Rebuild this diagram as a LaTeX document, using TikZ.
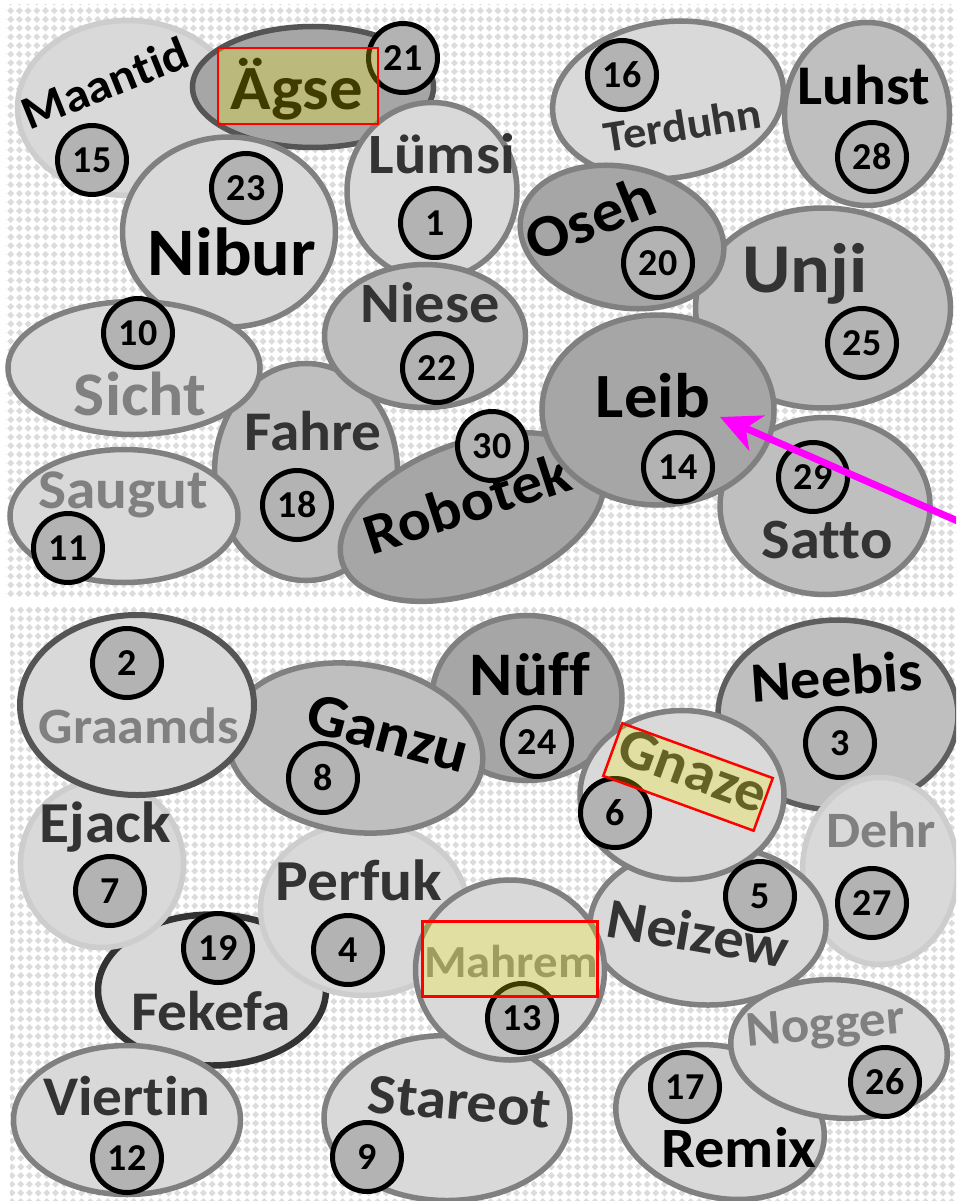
\documentclass[tikz,border=0pt]{standalone}
\usepackage{fontspec}
\setmainfont{Carlito}[Ligatures=NoCommon]
\usepackage{tikz}
\usetikzlibrary{arrows.meta,shapes.geometric}

\definecolor{fillL}{HTML}{D9D9D9}
\definecolor{fillM}{HTML}{BFBFBF}
\definecolor{fillD}{HTML}{A6A6A6}
\definecolor{rimN}{HTML}{808080}
\definecolor{rimD}{HTML}{555555}
\definecolor{rimX}{HTML}{333333}
\definecolor{rimL}{HTML}{CDCDCD}
\definecolor{inkD}{HTML}{333333}
\definecolor{inkG}{HTML}{808080}
\definecolor{ballgray}{HTML}{B3B3B3}
\definecolor{dotgray}{HTML}{DCDCDC}
\definecolor{pointercol}{RGB}{255,0,255}

\newcommand\lblfont[1]{\fontsize{#1}{#1}\selectfont\bfseries}

\begin{document}
\begin{tikzpicture}[x=1pt, y=-1pt,
  blob/.style={ellipse, draw=rimN, line width=5.5pt, inner sep=0pt},
  paleblob/.style={blob, fill=fillL},
  midblob/.style={blob, fill=fillM},
  darkblob/.style={blob, fill=fillD},
  bubbletext/.style={anchor=base, inner sep=0pt, font=\lblfont{#1}, xscale=1.06},
  ball/.style={circle, draw=black, fill=ballgray, line width=5pt, minimum size=69pt, inner sep=0pt, font=\lblfont{38}},
  hilite/.style={draw=red, line width=2.5pt, fill=yellow, fill opacity=0.25, inner sep=0pt},
  pointer/.style={-{Stealth[length=40pt, width=38pt, inset=12pt]}, line width=7pt, pointercol},
  dotrow/.style={dotgray, line width=4.9pt, dash pattern=on 4.9pt off 7.404pt},
]
\useasboundingbox (0,0) rectangle (956,1201);
\clip (0,0) rectangle (956,1201);
\fill[white] (0,0) rectangle (956,1201);
\begin{scope}
  \clip (5,5) rectangle (956,598);
  \foreach \k in {-70,...,110}
    \draw[dotrow] ({\k*8.7+0.27},0.27) -- ++(700,700);
\end{scope}
\begin{scope}
  \clip (10,607) rectangle (956,1201);
  \foreach \k in {-70,...,110}
    \draw[dotrow] ({\k*8.7+10.27},608.27) -- ++(700,700);
\end{scope}

\node[paleblob, draw=rimL, minimum width=221pt, minimum height=175pt] (maantid) at (128,108) {};
\node[rotate=22, bubbletext=47] (maantidtxt) at (111,98) {Maantid};
\node[darkblob, draw=rimD, minimum width=241pt, minimum height=121pt] (aegse) at (313,87) {};
\node[bubbletext=63] (aegsetxt) at (297,110) {Ägse};
\node[paleblob, minimum width=213pt, minimum height=190pt] (nibur) at (229,232) {};
\node[bubbletext=68] (niburtxt) at (232,275) {Nibur};
\node[midblob, minimum width=183pt, minimum height=217pt] (fahre) at (306,472) {};
\node[bubbletext=56, text=inkD] (fahretxt) at (313,450) {Fahre};
\node[paleblob, minimum width=252pt, minimum height=133pt] (sicht) at (134,368) {};
\node[bubbletext=62, text=inkG] (sichttxt) at (140,415) {Sicht};
\node[paleblob, minimum width=228pt, minimum height=133pt] (saugut) at (124,516) {};
\node[bubbletext=56, text=inkG] (saugutxt) at (123,508) {Saugut};
\node[paleblob, minimum width=170pt, minimum height=177pt] (luemsi) at (432,191) {};
\node[bubbletext=57, text=inkD] (luemsitxt) at (442,174) {Lümsi};
\node[midblob, minimum width=201pt, minimum height=143pt] (niese) at (425,336) {};
\node[bubbletext=57, text=inkD] (niesetxt) at (430,322) {Niese};
\node[paleblob, rotate=8, minimum width=232pt, minimum height=156pt] (terduhn) at (668,100) {};
\node[rotate=9, bubbletext=44, text=inkD] (terduhntxt) at (685,140) {Terduhn};
\node[midblob, minimum width=165pt, minimum height=183pt] (luhst) at (867,114) {};
\node[bubbletext=56] (luhsttxt) at (864,105) {Luhst};
\node[midblob, minimum width=255pt, minimum height=200pt] (unji) at (823,308) {};
\node[bubbletext=70, text=inkD] (unjitxt) at (805,292) {Unji};
\node[darkblob, rotate=-12, minimum width=206pt, minimum height=140pt] (oseh) at (622,237) {};
\node[rotate=22, bubbletext=60] (osehtxt) at (598,237) {Oseh};
\node[darkblob, rotate=20, minimum width=275pt, minimum height=149pt] (robotek) at (472,517) {};
\node[rotate=18, bubbletext=58] (robotektxt) at (473,522) {Robotek};
\node[midblob, minimum width=210pt, minimum height=177pt] (satto) at (825,506) {};
\node[bubbletext=57, text=inkD] (sattotxt) at (827,558) {Satto};
\node[darkblob, minimum width=232pt, minimum height=190pt] (leib) at (658,410) {};
\node[bubbletext=63] (leibtxt) at (653,417) {Leib};

\node[paleblob, draw=rimX, line width=6.5pt, minimum width=228pt, minimum height=151pt] (fekefa) at (212,990) {};
\node[bubbletext=56, text=inkD] (fekefatxt) at (211,1030) {Fekefa};
\node[paleblob, minimum width=227pt, minimum height=149pt] (viertin) at (127,1120) {};
\node[bubbletext=56, text=inkD] (viertintxt) at (127,1115) {Viertin};
\node[paleblob, draw=rimL, minimum width=163pt, minimum height=167pt] (ejack) at (102,864) {};
\node[bubbletext=58, text=inkD] (ejacktxt) at (105,842) {Ejack};
\node[paleblob, draw=rimL, minimum width=207pt, minimum height=173pt] (perfuk) at (364,909) {};
\node[bubbletext=58, text=inkD] (perfuktxt) at (359,900) {Perfuk};
\node[darkblob, minimum width=190pt, minimum height=165pt] (nueff) at (527,698) {};
\node[bubbletext=62] (naefftxt) at (530,695) {Nüff};
\node[midblob, rotate=-8, minimum width=257pt, minimum height=168pt] (ganzu) at (355,748) {};
\node[rotate=-15, bubbletext=60] (ganzutxt) at (383,752) {Ganzu};
\node[paleblob, draw=rimD, line width=6pt, minimum width=234pt, minimum height=180pt] (graamds) at (137,705) {};
\node[bubbletext=51, text=inkG] (graamdstxt) at (139,743) {Graamds};
\node[midblob, draw=rimD!80!rimN, minimum width=240pt, minimum height=190pt] (neebis) at (838,715) {};
\node[rotate=4, bubbletext=57] (neebistxt) at (838,696) {Neebis};
\node[paleblob, draw=rimL, minimum width=155pt, minimum height=187pt] (dehr) at (880,871) {};
\node[bubbletext=51, text=inkG] (dehrtxt) at (881,847) {Dehr};
\node[paleblob, minimum width=236pt, minimum height=160pt] (neizew) at (708,925) {};
\node[rotate=-10, bubbletext=57, text=inkD] (neizewtxt) at (695,952) {Neizew};
\node[paleblob, minimum width=204pt, minimum height=169pt] (gnaze) at (682,795) {};
\node[rotate=-20, bubbletext=57, text=inkD] (gnazetxt) at (687,788) {Gnaze};
\node[paleblob, minimum width=246pt, minimum height=165pt] (stareot) at (447,1118) {};
\node[rotate=-5, bubbletext=57, text=inkD] (stareottxt) at (458,1120) {Stareot};
\node[paleblob, minimum width=189pt, minimum height=180pt] (mahrem) at (510,970) {};
\node[bubbletext=46, text=inkG] (mahremtxt) at (511,977) {Mahrem};
\node[paleblob, rotate=-15, minimum width=212pt, minimum height=150pt] (remix) at (720,1122) {};
\node[bubbletext=57] (remixtxt) at (739,1167) {Remix};
\node[paleblob, rotate=-5, minimum width=217pt, minimum height=138pt] (nogger) at (839,1049) {};
\node[rotate=5, bubbletext=50, text=inkG] (noggertxt) at (827,1040) {Nogger};

\node[ball] (b15) at (92,160) {15};
\node[ball] (b21) at (403,58) {21};
\node[ball] (b23) at (246,188) {23};
\node[ball] (b1) at (435,223) {1};
\node[ball] (b16) at (622,75) {16};
\node[ball] (b28) at (872,157) {28};
\node[ball] (b20) at (658,263) {20};
\node[ball] (b10) at (138,333) {10};
\node[ball] (b22) at (437,368) {22};
\node[ball] (b18) at (297,505) {18};
\node[ball] (b11) at (68,548) {11};
\node[ball] (b30) at (492,446) {30};
\node[ball] (b25) at (862,343) {25};
\node[ball] (b14) at (678,467) {14};
\node[ball] (b29) at (813,477) {29};
\node[ball] (b2) at (127,663) {2};
\node[ball] (b8) at (323,778) {8};
\node[ball] (b7) at (110,891) {7};
\node[ball] (b24) at (537,742) {24};
\node[ball] (b3) at (840,743) {3};
\node[ball] (b6) at (615,813) {6};
\node[ball] (b5) at (760,896) {5};
\node[ball] (b27) at (872,903) {27};
\node[ball] (b19) at (218,948) {19};
\node[ball] (b4) at (348,950) {4};
\node[ball] (b12) at (127,1158) {12};
\node[ball] (b9) at (367,1157) {9};
\node[ball] (b13) at (522,1018) {13};
\node[ball] (b17) at (685,1087) {17};
\node[ball] (b26) at (885,1082) {26};

\node[hilite, minimum width=160pt, minimum height=76pt] (aegsemark) at (298,86) {};
\node[hilite, rotate=-20, minimum width=160pt, minimum height=56pt] (gnazemark) at (688,777) {};
\node[hilite, minimum width=175pt, minimum height=75pt] (mahremmark) at (510,959) {};

\coordinate (pointerfrom) at (985,533);
\coordinate (pointerto) at (720,417);
\draw[pointer] (pointerfrom) -- (pointerto);
\end{tikzpicture}
\end{document}
